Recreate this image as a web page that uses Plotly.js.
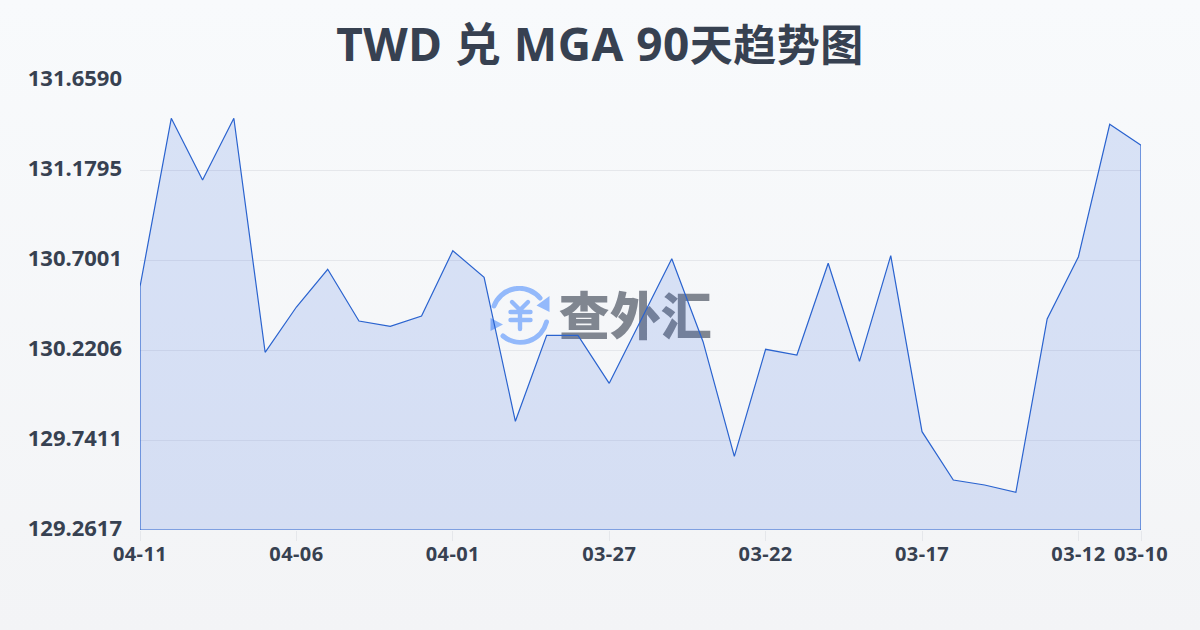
<!DOCTYPE html>
<html><head><meta charset="utf-8">
<script src="https://cdn.plot.ly/plotly-3.0.1.min.js"></script>
<style>html,body{margin:0;padding:0;width:1200px;height:630px;overflow:hidden;background:linear-gradient(180deg,#f8fafc 0%,#f3f4f6 100%);}#c{width:1200px;height:630px;}
.gtitle{letter-spacing:.5px;}.xtick text{letter-spacing:.4px;}</style>
</head><body><div id="c"></div>
<script>
const dates=['04-11','04-10','04-09','04-08','04-07','04-06','04-05','04-04','04-03','04-02','04-01','03-31','03-30','03-29','03-28','03-27','03-26','03-25','03-24','03-23','03-22','03-21','03-20','03-19','03-18','03-17','03-16','03-15','03-14','03-13','03-12','03-11','03-10'];
const rates=[130.5578,131.4550,131.1263,131.4550,130.2084,130.4497,130.6505,130.3751,130.3469,130.4017,130.7496,130.6079,129.8408,130.2989,130.2989,130.0432,130.3751,130.7070,130.2648,129.6543,130.2244,130.1940,130.6825,130.1604,130.7230,129.7854,129.5281,129.5014,129.4625,130.3858,130.7177,131.4230,131.3111];
const xTickLabels=['04-11','04-06','04-01','03-27','03-22','03-17','03-12','03-10'];
const yTicks=[129.2617,129.7411,130.2206,130.7001,131.1795,131.6590];
const yTickLabels=yTicks.map(v=>v.toFixed(4));
const titleText='TWD 兑 MGA 90<span style="font-size:43px">天趋势图</span>';
const watermark='查外汇';

const FONT='"Noto Sans","Noto Sans CJK SC",sans-serif';
const INK='#374151';
const n=dates.length-1;
const idx=dates.map((d,i)=>i);
const yMin=yTicks[0],yMax=yTicks[yTicks.length-1];

const icon=`<svg xmlns="http://www.w3.org/2000/svg" viewBox="0 0 60 60" width="240" height="240">
<g fill="none" stroke="#93b9fb" stroke-width="5" stroke-linecap="round">
<path d="M4 20 A27 27 0 0 1 50 12"/><path d="M56.5 36 A27 27 0 0 1 13 50"/>
<path d="M22 16 L30 24 L38 16 M20.5 26 H40.5 M20.5 34 H40.5 M30 24 V43" stroke-width="4.4"/></g>
<path d="M59.5 10 V26 L46.5 19.5 Z M0.5 32 V45 L13 38.5 Z" fill="#93b9fb"/></svg>`;

const data=[
 {type:'scatter',mode:'text',x:[15.83],y:[130.371],text:[watermark],textposition:'middle center',hoverinfo:'skip',showlegend:false,
  textfont:{family:'"Noto Sans CJK SC"',size:51,weight:900,color:'rgba(72,79,95,0.68)'}},
 {type:'scatter',mode:'lines',x:idx.concat([n,0,0]),y:rates.concat([yMin,yMin,rates[0]]),fill:'toself',fillcolor:'rgba(37,95,222,0.15)',
  line:{color:'#2a63cf',width:1.2},cliponaxis:false,showlegend:false,hoverinfo:'skip'}
];
const layout={
 width:1200,height:630,paper_bgcolor:'rgba(0,0,0,0)',plot_bgcolor:'rgba(0,0,0,0)',
 margin:{l:140,r:59,t:80,b:100},showlegend:false,
 title:{text:titleText,x:0.5,xref:'container',xanchor:'center',y:0.928,yref:'container',yanchor:'middle',font:{family:FONT,size:46,weight:700,color:INK}},
 xaxis:{type:'linear',range:[0,n],tickmode:'array',tickvals:xTickLabels.map(l=>dates.indexOf(l)),ticktext:xTickLabels,ticks:'outside',ticklen:10,tickcolor:'#e5e7eb',tickwidth:1,ticklabelstandoff:-4,
  showgrid:false,zeroline:false,showline:false,tickangle:0,tickfont:{family:FONT,size:20,weight:700,color:INK}},
 yaxis:{type:'linear',range:[yMin,yMax],tickmode:'array',tickvals:yTicks,ticktext:yTickLabels,ticks:'',ticklabelstandoff:17,ticklabelshift:-2,gridcolor:'#e5e7eb',gridwidth:1,
  zeroline:false,showline:false,tickfont:{family:FONT,size:22,weight:700,color:INK}},
 images:[{source:'data:image/svg+xml;charset=utf-8,'+encodeURIComponent(icon),xref:'paper',yref:'paper',x:350/1001,y:244/450,sizex:60/1001,sizey:60/450,sizing:'stretch',xanchor:'left',yanchor:'top',layer:'below'}]
};
Plotly.newPlot('c',data,layout,{displayModeBar:false,staticPlot:true});
</script></body></html>
